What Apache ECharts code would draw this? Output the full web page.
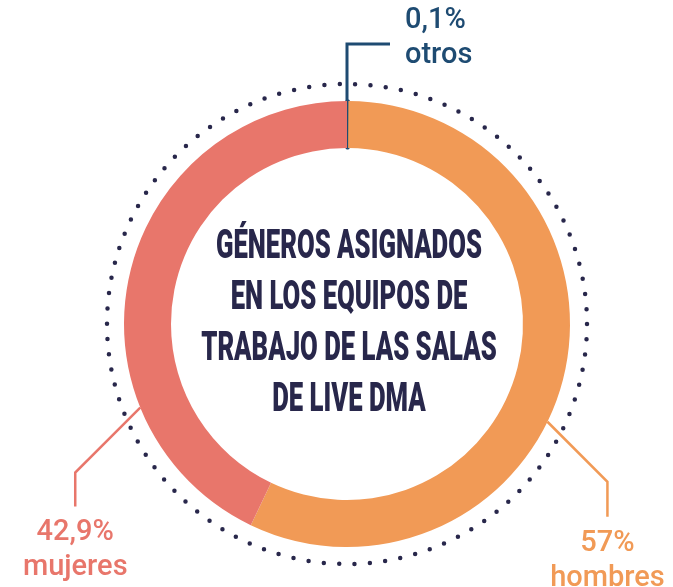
<!DOCTYPE html>
<html>
<head>
<meta charset="utf-8">
<script src="https://cdn.jsdelivr.net/npm/echarts@6/dist/echarts.min.js"></script>
<style>
html,body{margin:0;padding:0;background:#fff;}
#chart{width:673px;height:587px;}
</style>
</head>
<body>
<div id="chart"></div>
<script>
// ---- data ----
const categories = ['otros', 'hombres', 'mujeres'];
const values = [0.1, 57, 42.9];
const titleLines = ['GÉNEROS ASIGNADOS', 'EN LOS EQUIPOS DE', 'TRABAJO DE LAS SALAS', 'DE LIVE DMA'];

// ---- styles / layout ----
const colors = ['#1E4B72', '#F19A56', '#E8766B'];
const navy = '#28274B';
const CX = 347, CY = 324, R_IN = 176, R_OUT = 223, R_DOTS = 240;
const labelFont = 'Roboto, "Noto Sans", sans-serif';
// leader line geometry per category (annotation layout, not data)
const leader = {
  otros:   { kind: 'top' },
  hombres: { angle: -26, diag: 60, vert: 35, sign: 1 },
  mujeres: { angle: 202, diag: 65, vert: 34, sign: -1 }
};

const chart = echarts.init(document.getElementById('chart'));

// measure title width for horizontal condensing
const mctx = document.createElement('canvas').getContext('2d');
const titleFont = '900 41px Roboto';
mctx.font = titleFont;
const w1 = mctx.measureText(titleLines[0]).width;
const titleScale = 266 / w1;

const data = categories.map((c, i) => ({
  name: c,
  value: values[i],
  itemStyle: i === 0 ? { color: colors[i], borderColor: colors[i], borderWidth: 3 } : { color: colors[i] },
  label: { color: colors[i] },
  labelLine: { lineStyle: { color: colors[i], width: i === 0 ? 3 : 2.5 } }
}));

function layoutFn(params) {
  const name = categories[params.dataIndex];
  const L = leader[name];
  if (L.kind === 'top') {
    const p0 = [CX, CY - R_IN];
    const p1 = [CX, CY - 280];
    const p2 = [CX + 43, CY - 280];
    return { x: p2[0] + 15, y: p2[1] - 6, align: 'left', verticalAlign: 'middle', labelLinePoints: [p0, p1, p2] };
  }
  const a = L.angle * Math.PI / 180;
  const p0 = [CX + R_OUT * Math.cos(a), CY - R_OUT * Math.sin(a)];
  const p1 = [p0[0] + L.sign * L.diag, p0[1] + L.diag];
  const p2 = [p1[0], p1[1] + L.vert];
  return { x: p2[0], y: p2[1] + 9, align: 'center', verticalAlign: 'top', labelLinePoints: [p0, p1, p2] };
}

const option = {
  backgroundColor: '#ffffff',
  animation: false,
  graphic: [
    {
      type: 'circle',
      silent: true,
      shape: { cx: CX, cy: CY, r: R_DOTS },
      style: { fill: 'none', stroke: navy, lineWidth: 4.5, lineDash: [0, 2 * Math.PI * R_DOTS / 98], lineCap: 'round' },
      z: 1
    },
    {
      type: 'text',
      silent: true,
      x: 349,
      y: 324,
      scaleX: titleScale,
      style: {
        text: titleLines.join('\n'),
        font: titleFont,
        fill: navy,
        align: 'center',
        verticalAlign: 'middle',
        lineHeight: 51
      },
      z: 10
    }
  ],
  series: [{
    type: 'pie',
    silent: true,
    center: [CX, CY],
    radius: [R_IN, R_OUT],
    startAngle: 90,
    clockwise: true,
    avoidLabelOverlap: false,
    data: data,
    label: {
      show: true,
      position: 'outside',
      fontFamily: labelFont,
      fontWeight: 500,
      fontSize: 29,
      lineHeight: 35,
      formatter: p => String(p.value).replace('.', ',') + '%\n' + p.name
    },
    labelLine: { show: true, length: 20, length2: 20 },
    labelLayout: layoutFn,
    emphasis: { disabled: true }
  }]
};
chart.setOption(option);
</script>
</body>
</html>
